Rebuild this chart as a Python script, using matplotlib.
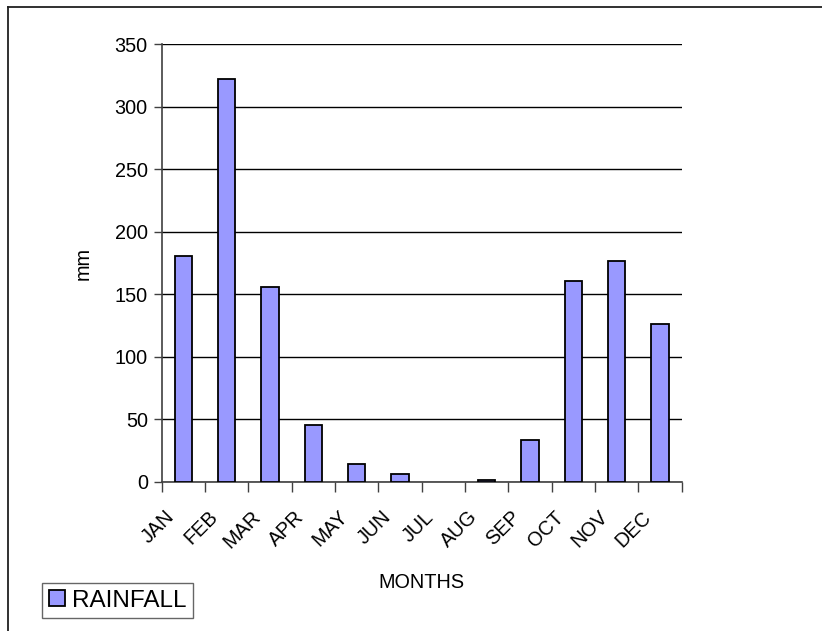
import numpy as np
import matplotlib
matplotlib.use('Agg')
import matplotlib.pyplot as plt
from matplotlib.lines import Line2D
from matplotlib.transforms import ScaledTranslation

plt.rcParams['font.family'] = ['Liberation Sans', 'DejaVu Sans']

months = ['JAN', 'FEB', 'MAR', 'APR', 'MAY', 'JUN',
          'JUL', 'AUG', 'SEP', 'OCT', 'NOV', 'DEC']
rainfall = [181, 322, 155.5, 45.5, 14, 6, 0, 1, 33, 160.5, 177, 126]
y_ticks = [0, 50, 100, 150, 200, 250, 300, 350]

W, H = 822, 631
fig = plt.figure(figsize=(W / 100, H / 100), dpi=100)

# plot area in pixel terms
left, right, top, bottom = 161.7, 681.7, 44.3, 481.7
ax = fig.add_axes([left / W, (H - bottom) / H, (right - left) / W, (bottom - top) / H])

x = np.arange(len(months))
bars = ax.bar(x, rainfall, width=0.4, color='#9999FF', edgecolor='black',
              linewidth=1.3, zorder=3, label='RAINFALL')
for b in bars:
    if b.get_height() == 0:
        b.set_linewidth(0)

ax.set_xlim(-0.5, len(months) - 0.5)
ax.set_ylim(0, 350)
ax.set_yticks(y_ticks)
ax.tick_params(axis='y', labelsize=14.3, length=6, width=1, color='#404040', pad=4)

# ticks sit between the categories, labels under each bar
ax.set_xticks(np.arange(len(months) + 1) - 0.5)
ax.set_xticklabels([])
ax.set_xticks(x, minor=True)
ax.set_xticklabels(months, minor=True, rotation=45, ha='right',
                   rotation_mode='anchor', fontsize=14.3)
ax.tick_params(axis='x', which='major', length=7, width=1, color='#404040')
ax.tick_params(axis='x', which='minor', length=0, pad=12)
shift = ScaledTranslation(-19 / 100, -9 / 100, fig.dpi_scale_trans)
for lbl in ax.get_xticklabels(minor=True):
    lbl.set_transform(lbl.get_transform() + shift)

ax.yaxis.grid(True, color='black', linewidth=1.0, zorder=0)
ax.set_axisbelow(True)
for side in ['top', 'right']:
    ax.spines[side].set_visible(False)
for side in ['left', 'bottom']:
    ax.spines[side].set_color('#404040')
    ax.spines[side].set_linewidth(1.2)

ax.set_ylabel('mm', fontsize=14.3)
ax.yaxis.set_label_coords(-0.132, 0.5)
ax.set_xlabel('MONTHS', fontsize=14.3)
ax.xaxis.set_label_coords(0.5, -0.209)

leg = fig.legend(loc='upper left', bbox_to_anchor=(41.7 / W, 1 - 582.7 / H),
                 fontsize=17.5, frameon=True, fancybox=False, borderpad=0.28,
                 handlelength=0.66, handleheight=0.66, handletextpad=0.3,
                 borderaxespad=0)
leg.get_frame().set_edgecolor('#404040')
leg.get_frame().set_linewidth(1.0)

# outer chart frame
fy = 1 - 6.5 / H
fx = 7.5 / W
fig.add_artist(Line2D([fx, 1], [fy, fy], color='#202020', linewidth=1.3))
fig.add_artist(Line2D([fx, fx], [0, fy], color='#202020', linewidth=1.3))

fig.savefig('out.png', dpi=100)
